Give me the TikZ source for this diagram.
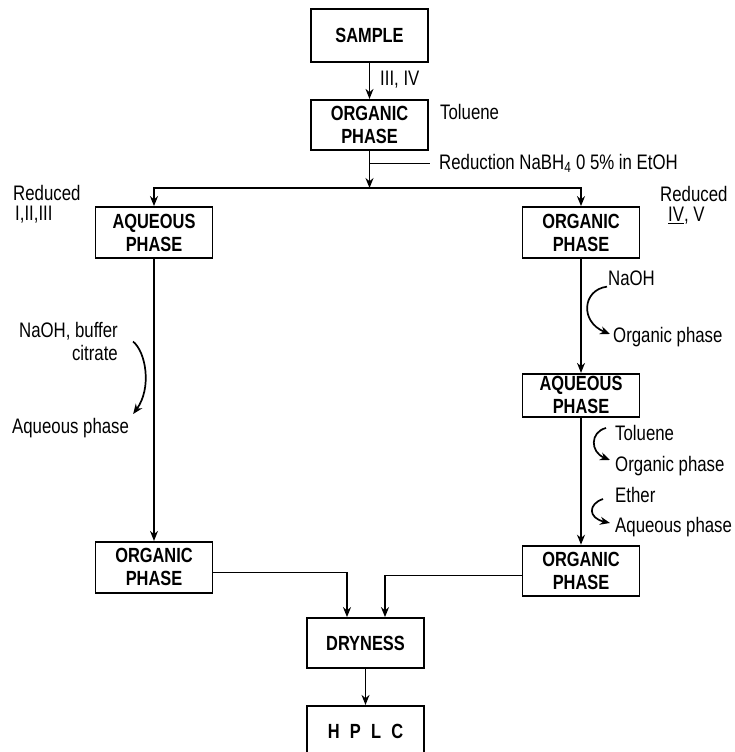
\documentclass[tikz,border=0pt]{standalone}
\usepackage{fontspec}
\setmainfont{Liberation Sans}[FakeStretch=0.8]
\usepackage{tikz}
\usetikzlibrary{arrows.meta,positioning}

\begin{document}
\begin{tikzpicture}[
  x=1pt, y=-1pt,
  node distance=36pt,
  box/.style={rectangle, draw, line width=1.8pt,
    minimum width=117pt, minimum height=51pt, inner sep=2pt,
    align=center, font=\bfseries\fontsize{20.5}{23}\selectfont},
  lbl/.style={inner sep=1pt, font=\fontsize{21}{23}\selectfont},
  arr/.style={-{Stealth[length=10pt,width=8pt]}, line width=1.5pt},
  curv/.style={-{Stealth[length=10pt,width=8pt]}, line width=1.7pt}
]
\useasboundingbox (0,0) rectangle (735,752);
\node[box, minimum height=53pt] (A) at (369.5,35.5) {SAMPLE};
\node[box, minimum height=50pt, below=of A] (B) {ORGANIC\\PHASE};
\node[box] (C) at (154,232.5) {AQUEOUS\\PHASE};
\node[box] (D) at (581,232.5) {ORGANIC\\PHASE};
\node[box, minimum height=43pt, below=114pt of D] (E) {AQUEOUS\\PHASE};
\node[box, below=282pt of C] (F) {ORGANIC\\PHASE};
\node[box, minimum height=50pt, below=127pt of E] (G) {ORGANIC\\PHASE};
\node[box, minimum height=50pt] (H) at (365.5,643) {DRYNESS};
\node[box, minimum height=52pt, below=of H] (I) {H\hspace{0.5em}P\hspace{0.5em}L\hspace{0.5em}C};
\coordinate (J) at (369.5,188);

\node[lbl, anchor=west] (l1) at (379,80) {III, IV};
\node[lbl, anchor=west] (l2) at (439,112) {Toluene};
\node[lbl, anchor=west] (l3) at (438,163) {Reduction NaBH\textsubscript{4} 0 5\% in EtOH};
\node[lbl, anchor=west, align=left, font=\fontsize{21}{20.5}\selectfont] (l4) at (12,204) {Reduced\\\hspace*{2pt}I,II,III};
\node[lbl, anchor=west, align=left, font=\fontsize{21}{20.5}\selectfont] (l5) at (659,205) {Reduced\\\hspace*{8pt}\underline{IV}, V};
\node[lbl, anchor=east, align=right] (l6) at (119,341.5) {NaOH, buffer\\citrate};
\node[lbl, anchor=west] (l7) at (11,428) {Aqueous phase};
\node[lbl, anchor=west] (l8) at (607,278) {NaOH};
\node[lbl, anchor=west] (l9) at (612,337) {Organic phase};
\node[lbl, anchor=west] (l10) at (614,433) {Toluene};
\node[lbl, anchor=west] (l11) at (614,466) {Organic phase};
\node[lbl, anchor=west] (l12) at (614,495) {Ether};
\node[lbl, anchor=west] (l13) at (614,527) {Aqueous phase};

\draw[arr] (A)--(B); \draw[arr] (B)--(J);
\draw[arr] (J) -| (C); \draw[arr] (J) -| (D);
\draw[line width=0.7pt] (B.south |- l3.west) -- ([xshift=-8pt]l3.west);
\draw[arr] (C)--(F); \draw[arr] (D)--(E); \draw[arr] (E)--(G);
\draw[arr] ([yshift=-5pt]F.east) -| ([xshift=-18.5pt]H.north);
\draw[arr] ([yshift=-5pt]G.west) -| ([xshift=19.5pt]H.north);
\draw[arr] (H)--(I);

\draw[curv] ([xshift=14pt]l6.east) .. controls (146,352) and (152,388) .. ([shift={(3pt,3pt)}]l7.north east);
\draw[curv] (l8.south west) .. controls (582,290) and (580,322) .. ([shift={(-2pt,3pt)}]l9.west);
\draw[curv] ([shift={(-8pt,5pt)}]l10.west) .. controls (590,432) and (590,452) .. ([shift={(-4pt,6pt)}]l11.west);
\draw[curv] ([shift={(-11pt,-4pt)}]l12.west) .. controls (588,504) and (588,518) .. ([shift={(-4pt,4pt)}]l13.west);
\end{tikzpicture}
\end{document}
